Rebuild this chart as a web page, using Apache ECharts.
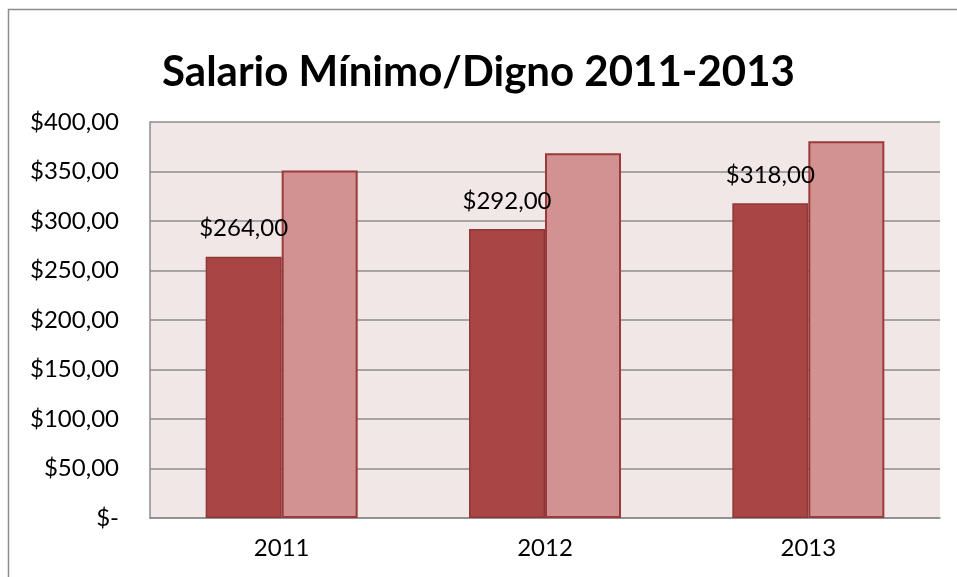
<!DOCTYPE html>
<html>
<head>
<meta charset="utf-8">
<script src="https://cdn.jsdelivr.net/npm/echarts@6/dist/echarts.min.js"></script>
<style>
  html, body { margin: 0; padding: 0; background: #fff; }
  #chart { width: 957px; height: 577px; }
</style>
</head>
<body>
<div id="chart"></div>
<script>
// datos
var years = ["2011", "2012", "2013"];
var minimo = [264, 292, 318];
var digno = [351, 368.4, 380.5];
var yTicks = [0, 50, 100, 150, 200, 250, 300, 350, 400];

function money(v) {
  if (v === 0) return "$-";
  return "$" + v.toFixed(2).replace(".", ",");
}

var chart = echarts.init(document.getElementById("chart"));
chart.setOption({
  animation: false,
  backgroundColor: "#ffffff",
  textStyle: { fontFamily: "Lato" },
  title: {
    text: "Salario Mínimo/Digno 2011-2013",
    left: "center",
    top: 46,
    textStyle: {
      fontFamily: "Lato",
      fontWeight: "bold",
      fontSize: 42,
      color: "#000"
    }
  },
  graphic: [
    {
      type: "rect",
      shape: { x: 8.5, y: 9.5, width: 1000, height: 700 },
      style: { fill: null, stroke: "#8c8c8c", lineWidth: 1.5 },
      silent: true
    }
  ],
  grid: {
    left: 150,
    right: 17,
    top: 122,
    bottom: 59,
    show: true,
    backgroundColor: "#f2e7e7",
    borderWidth: 0
  },
  xAxis: {
    type: "category",
    data: years,
    axisTick: { show: false },
    axisLine: { lineStyle: { color: "#8c8c8c", width: 1.5 } },
    axisLabel: { color: "#000", fontSize: 24, margin: 18, fontFamily: "Lato" }
  },
  yAxis: {
    type: "value",
    min: yTicks[0],
    max: yTicks[yTicks.length - 1],
    interval: 50,
    axisLine: { show: true, lineStyle: { color: "#8c8c8c", width: 1.5 } },
    axisTick: { show: false },
    splitLine: { lineStyle: { color: "#8c8c8c", width: 1.5 } },
    axisLabel: {
      color: "#000",
      fontSize: 24,
      margin: 31,
      fontFamily: "Lato",
      formatter: function (v) { return money(v); }
    }
  },
  series: [
    {
      name: "Mínimo",
      type: "bar",
      data: minimo,
      barWidth: 76,
      barGap: "0%",
      itemStyle: { color: "#a84645", borderColor: "#8e3838", borderWidth: 1.5 },
      label: {
        show: true,
        position: "top",
        distance: 16,
        color: "#000",
        fontSize: 24,
        fontFamily: "Lato",
        formatter: function (p) { return money(p.value); }
      }
    },
    {
      name: "Digno",
      type: "bar",
      data: digno,
      barWidth: 76,
      itemStyle: { color: "#d39292", borderColor: "#9a3a3a", borderWidth: 2 }
    }
  ]
});
</script>
</body>
</html>
